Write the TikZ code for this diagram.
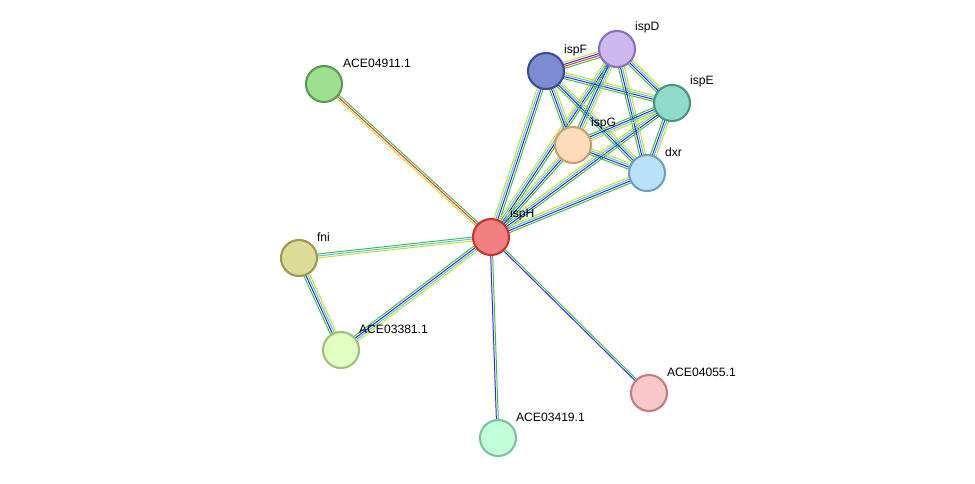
\documentclass[tikz,border=0pt]{standalone}
\usepackage{fontspec}
\setmainfont{Liberation Sans}
\usetikzlibrary{calc,backgrounds}
\definecolor{sgreen}{RGB}{60,190,60}
\definecolor{sblue}{RGB}{40,40,230}
\definecolor{syellow}{RGB}{200,220,40}
\definecolor{sred}{RGB}{230,50,50}
\definecolor{scyan}{RGB}{80,190,230}
\tikzset{
  prot/.style={circle, minimum size=20.5pt, inner sep=0pt, line width=1.2pt},
  plabel/.style={font=\fontsize{6.9}{8}\selectfont, anchor=south west, inner sep=1pt}
}
% one edge = parallel lines, colour/offset pairs
\newcommand\stredge[3]{%
  \foreach \c/\o in {#3}{%
    \draw[\c, line width=0.55pt] ($(#1.center)!\o pt!90:(#2.center)$) -- ($(#2.center)!\o pt!-90:(#1.center)$);}}
\begin{document}
\begin{tikzpicture}[x=0.02cm, y=-0.02cm]
  \useasboundingbox (0,0) rectangle (975,484);

  % proteins
  \node[prot, fill={rgb,255:red,242;green,128;blue,128}, draw={rgb,255:red,200;green,50;blue,50}] (ispH) at (491,237) {};
  \node[prot, fill={rgb,255:red,157;green,224;blue,143}, draw={rgb,255:red,90;green,154;blue,80}] (ace911) at (324,84) {};
  \node[prot, fill={rgb,255:red,125;green,140;blue,210}, draw={rgb,255:red,60;green,76;blue,150}] (ispF) at (546,71) {};
  \node[prot, fill={rgb,255:red,205;green,185;blue,240}, draw={rgb,255:red,140;green,110;blue,190}] (ispD) at (617,49) {};
  \node[prot, fill={rgb,255:red,145;green,218;blue,200}, draw={rgb,255:red,70;green,150;blue,130}] (ispE) at (672,103) {};
  \node[prot, fill={rgb,255:red,253;green,220;blue,185}, draw={rgb,255:red,200;green,160;blue,112}] (ispG) at (573,145) {};
  \node[prot, fill={rgb,255:red,185;green,225;blue,248}, draw={rgb,255:red,112;green,160;blue,192}] (dxr) at (647,173) {};
  \node[prot, fill={rgb,255:red,220;green,220;blue,152}, draw={rgb,255:red,154;green,154;blue,80}] (fni) at (299,258) {};
  \node[prot, fill={rgb,255:red,224;green,255;blue,192}, draw={rgb,255:red,160;green,192;blue,128}] (ace381) at (341,350) {};
  \node[prot, fill={rgb,255:red,248;green,200;blue,200}, draw={rgb,255:red,192;green,128;blue,128}] (ace055) at (649,393) {};
  \node[prot, fill={rgb,255:red,192;green,255;blue,216}, draw={rgb,255:red,128;green,192;blue,160}] (ace419) at (498,438) {};

  % labels
  \node[plabel] at (508,222) {ispH};
  \node[plabel] at (341,70) {ACE04911.1};
  \node[plabel] at (562,58) {ispF};
  \node[plabel] at (633,35) {ispD};
  \node[plabel] at (688,89) {ispE};
  \node[plabel] at (589,131) {ispG};
  \node[plabel] at (663,159) {dxr};
  \node[plabel] at (315,244) {fni};
  \node[plabel] at (357,336) {ACE03381.1};
  \node[plabel] at (665,379) {ACE04055.1};
  \node[plabel] at (514,424) {ACE03419.1};

  % interactions
  \begin{pgfonlayer}{background}
    \stredge{ispH}{ace911}{sgreen/-1.1,sred/0,syellow/1.1}
    \stredge{ispH}{fni}{sgreen/-1.1,scyan/0,syellow/1.1}
    \stredge{fni}{ace381}{sgreen/-1.7,sblue/-0.55,scyan/0.55,syellow/1.7}
    \stredge{ispH}{ace381}{sgreen/-1.7,sblue/-0.55,scyan/0.55,syellow/1.7}
    \stredge{ispH}{ace055}{sblue/-0.55,sgreen/0.55}
    \stredge{ispH}{ace419}{sblue/-0.55,sgreen/0.55}
    \foreach \a/\b in {ispH/ispF,ispH/ispD,ispH/ispE,ispH/ispG,ispH/dxr,
                       ispF/ispE,ispF/ispG,ispF/dxr,ispD/ispE,ispD/ispG,
                       ispD/dxr,ispE/ispG,ispE/dxr,ispG/dxr}
      \stredge{\a}{\b}{sgreen/-1.7,sblue/-0.55,scyan/0.55,syellow/1.7};
    \stredge{ispF}{ispD}{sgreen/-1.7,sred/-0.55,sblue/0.55,syellow/1.7}
  \end{pgfonlayer}
\end{tikzpicture}
\end{document}
